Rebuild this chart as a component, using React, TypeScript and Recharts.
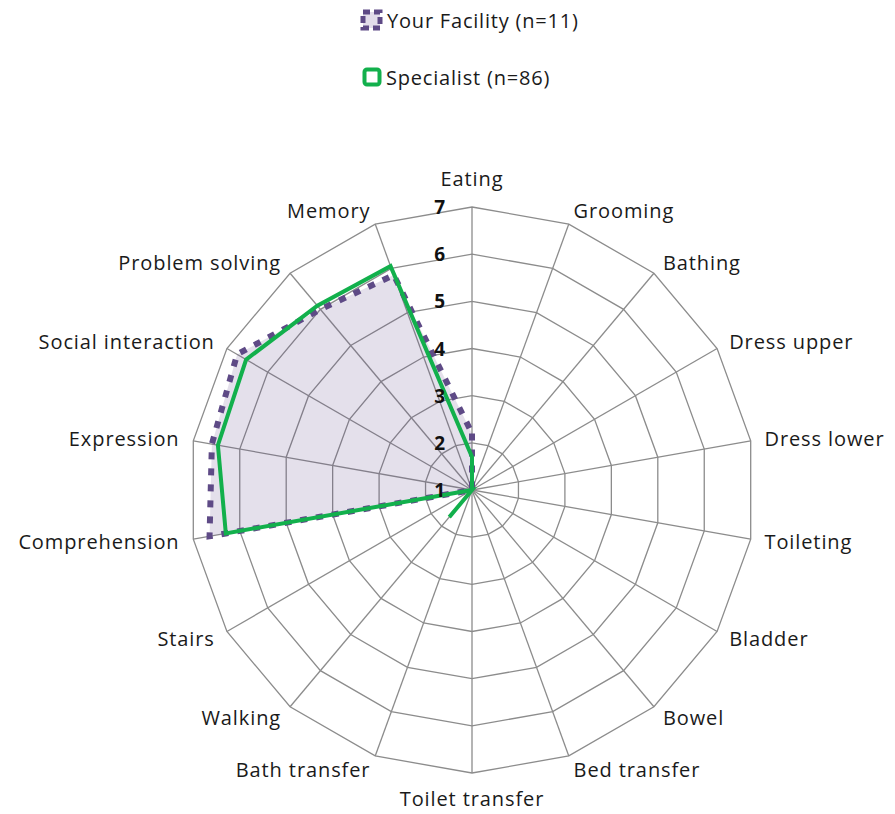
import React from "react";
import {
  RadarChart, Radar, PolarGrid, PolarAngleAxis, PolarRadiusAxis, Legend,
} from "recharts";

const categories = [
  "Eating", "Grooming", "Bathing", "Dress upper", "Dress lower", "Toileting",
  "Bladder", "Bowel", "Bed transfer", "Toilet transfer", "Bath transfer",
  "Walking", "Stairs", "Comprehension", "Expression", "Social interaction",
  "Problem solving", "Memory",
];

const yourFacility = [2.2, 1, 1, 1, 1, 1, 1, 1, 1, 1, 1, 1, 1, 6.65, 6.6, 6.75, 6.0, 5.85];
const specialist = [1.7, 1, 1, 1, 1, 1, 1, 1, 1, 1, 1, 1.75, 1, 6.3, 6.47, 6.53, 6.1, 6.05];

const radiusTicks = [1, 2, 3, 4, 5, 6, 7];

const seriesNames = ["Your Facility (n=11)", "Specialist (n=86)"];

const data = categories.map((c, i) => ({
  category: c,
  facility: yourFacility[i],
  specialist: specialist[i],
}));

const FONT = "'Open Sans', sans-serif";
const PURPLE = "#5e4a86";
const GREEN = "#12b04c";
const GRID = "#8c8c8c";

const W = 879;
const H = 806;
const CX = 464;
const CY = 482;
const R = 283;

// category labels sit just outside the outer ring, like Excel does
const AngleTick = ({ payload, index }: any) => {
  const a = (index * 360 / categories.length) * Math.PI / 180;
  const s = Math.sin(a);
  const c = Math.cos(a);
  let x = CX + (R + 14) * s;
  let y = CY - (R + 14) * c;
  let anchor = "middle";
  if (s > 0.05) anchor = "start";
  else if (s < -0.05) anchor = "end";
  else y += c > 0 ? -15 : 11;
  return (
    <text x={x} y={y} textAnchor={anchor} dominantBaseline="central"
      fontSize={20} letterSpacing={0.9} fontFamily={FONT} fill="#1a1a1a">
      {payload.value}
    </text>
  );
};

const RadiusTick = ({ x, y, payload }: any) => (
  <text x={x - 27} y={y} textAnchor="end" dominantBaseline="central"
    fontSize={19} fontWeight="bold" fontFamily={FONT} fill="#111">
    {payload.value}
  </text>
);

const renderLegend = () => (
  <div style={{ fontFamily: FONT, fontSize: 20, letterSpacing: 0.8, color: "#1a1a1a", paddingLeft: 352 }}>
    <div style={{ display: "flex", alignItems: "center", height: 24 }}>
      <svg width={25} height={22} style={{ marginRight: 2 }}>
        <rect x={3} y={3} width={17} height={16} fill="#e2dcea" stroke={PURPLE}
          strokeWidth={5} strokeDasharray="7 4" />
      </svg>
      <span>{seriesNames[0]}</span>
    </div>
    <div style={{ display: "flex", alignItems: "center", height: 24, marginTop: 33, paddingLeft: 2 }}>
      <svg width={20} height={20} style={{ marginRight: 4 }}>
        <rect x={2.5} y={2.5} width={15} height={15} rx={2.5} fill="#fff" stroke={GREEN} strokeWidth={4} />
      </svg>
      <span>{seriesNames[1]}</span>
    </div>
  </div>
);

export default function App() {
  // the svg is 8px taller than its box so the bottom label may use the body margin
  return (
    <div style={{ width: W, height: H - 8 }}>
      <RadarChart width={W} height={H} data={data} cx={CX} cy={CY} outerRadius={R}
        margin={{ top: 0, right: 0, bottom: 0, left: 0 }}>
        <PolarGrid stroke={GRID} strokeWidth={1.3} gridType="polygon" />
        <PolarAngleAxis dataKey="category" tick={<AngleTick />} tickLine={false} axisLine={false} />
        <PolarRadiusAxis angle={90} domain={[1, 7]} ticks={radiusTicks as any} tickCount={7}
          type="number" axisLine={false} tickLine={false} tick={<RadiusTick />} />
        <Legend verticalAlign="middle" align="center" layout="vertical" content={renderLegend}
          wrapperStyle={{ top: 0, left: 0, width: W }} />
        <Radar name={seriesNames[0]} dataKey="facility" stroke={PURPLE} strokeWidth={6}
          strokeDasharray="7 9" fill={PURPLE} fillOpacity={0.17} dot={false} isAnimationActive={false} />
        <Radar name={seriesNames[1]} dataKey="specialist" stroke={GREEN} strokeWidth={4}
          fill="none" fillOpacity={0} dot={false} isAnimationActive={false} />
      </RadarChart>
    </div>
  );
}
